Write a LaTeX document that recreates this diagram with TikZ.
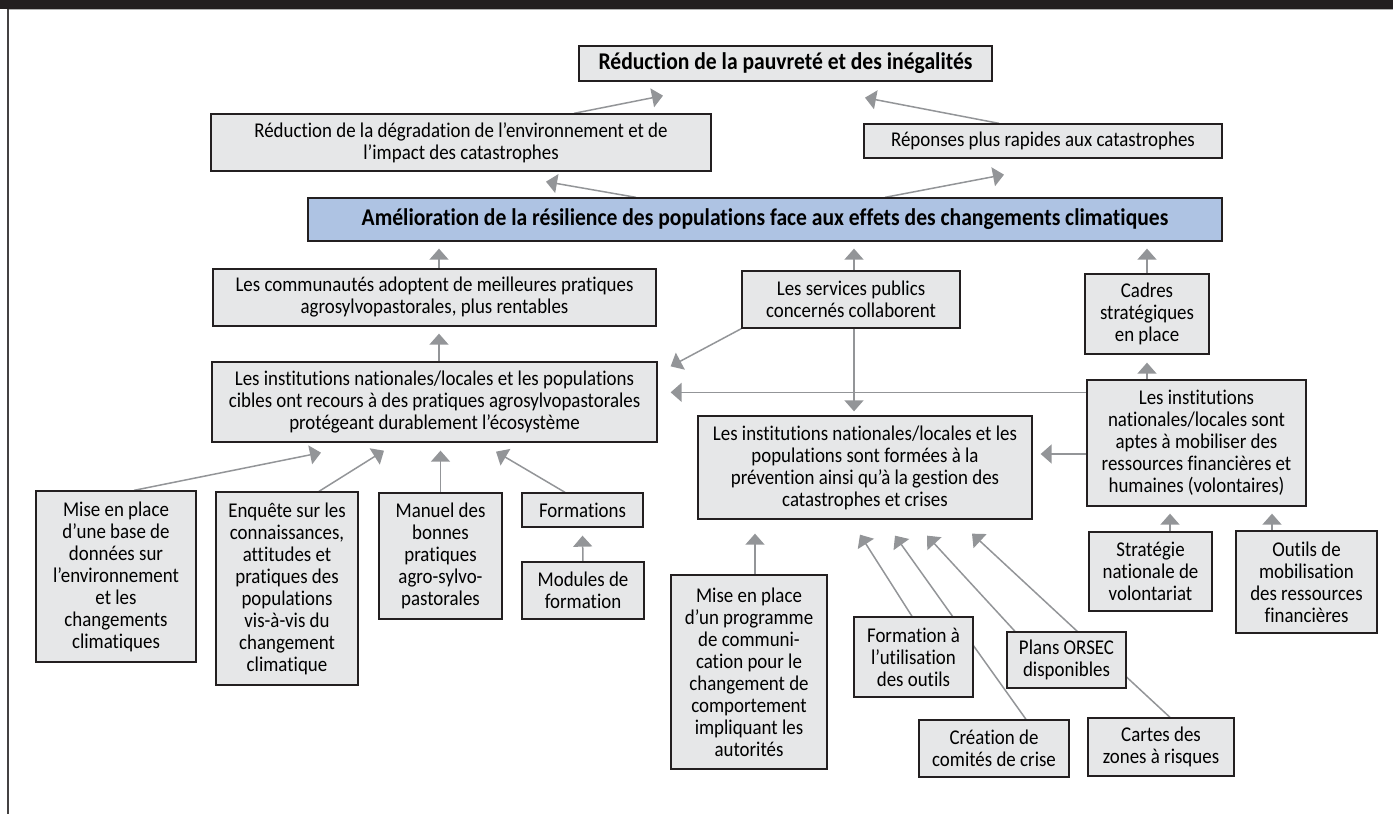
\documentclass[tikz,border=0pt]{standalone}
\usepackage{fontspec}
\setmainfont{Carlito}[FakeStretch=0.9,Ligatures=NoCommon]
\usetikzlibrary{arrows.meta,calc,backgrounds}
\definecolor{boxgray}{HTML}{E6E7E8}
\definecolor{resilblue}{HTML}{AEC3E3}
\definecolor{arrowgray}{HTML}{939598}
\definecolor{framedark}{HTML}{231F20}
\tikzset{
  box/.style={draw=framedark, line width=0.65pt, fill=boxgray, align=center, inner sep=1pt,
    font=\fontsize{10.5}{11}\selectfont},
  arr/.style={draw=arrowgray, line width=0.75pt, -{Triangle[length=5.5pt,width=9.5pt]}},
  link/.style={draw=arrowgray, line width=0.75pt}
}
\begin{document}
\begin{tikzpicture}[x=0.5pt,y=-0.5pt]
		\useasboundingbox (0,0) rectangle (1393,814);
		\fill[framedark] (0,0) rectangle (1393,9);
		\draw[gray!60, line width=0.5pt] (8,9.6)--(1393,9.6);
		\draw[framedark!85, line width=0.7pt] (8,9)--(8,814);

		\node[box, minimum width=206.5pt, minimum height=17.5pt, font=\fontsize{12}{13}\selectfont\bfseries] (pauvrete) at (785.5,63.5) {Réduction de la pauvreté et des inégalités};
		\node[box, minimum width=250pt, minimum height=28.5pt] (degrad) at (461,142.5) {Réduction de la dégradation de l’environnement et de\\l’impact des catastrophes};
		\node[box, minimum width=179pt, minimum height=17pt] (reponses) at (1043,141) {Réponses plus rapides aux catastrophes};
		\node[box, fill=resilblue, minimum width=457pt, minimum height=21.5pt, font=\fontsize{12}{13}\selectfont\bfseries] (resil) at (765,219.5) {Amélioration de la résilience des populations face aux effets des changements climatiques};

		\node[box, minimum width=221.5pt, minimum height=28.5pt] (commu) at (434.5,297.5) {Les communautés adoptent de meilleures pratiques\\agrosylvopastorales, plus rentables};
		\node[box, minimum width=109pt, minimum height=28.5pt] (services) at (851,299.5) {Les services publics\\concernés collaborent};
		\node[box, minimum width=62pt, minimum height=40pt] (cadres) at (1147,314) {Cadres\\stratégiques\\en place};
		\node[box, minimum width=222.5pt, minimum height=40pt] (pratiques) at (434.5,402) {Les institutions nationales/locales et les populations\\cibles ont recours à des pratiques agrosylvopastorales\\protégeant durablement l’écosystème};
		\node[box, minimum width=167pt, minimum height=51.5pt] (formees) at (865,467.5) {Les institutions nationales/locales et les\\populations sont formées à la\\prévention ainsi qu’à la gestion des\\catastrophes et crises};
		\node[box, minimum width=109.5pt, minimum height=63pt] (aptes) at (1196.5,443) {Les institutions\\nationales/locales sont\\aptes à mobiliser des\\ressources financières et\\humaines (volontaires)};

		\node[box, minimum width=80pt, minimum height=85.5pt] (base) at (116,576.5) {Mise en place\\d’une base de\\données sur\\l’environnement\\et les\\changements\\climatiques};
		\node[box, minimum width=71pt, minimum height=96.5pt] (enquete) at (287,588.5) {Enquête sur les\\connaissances,\\attitudes et\\pratiques des\\populations\\vis-à-vis du\\changement\\climatique};
		\node[box, minimum width=61.5pt, minimum height=63pt] (manuel) at (440.5,556) {Manuel des\\bonnes\\pratiques\\agro-sylvo-\\pastorales};
		\node[box, minimum width=60.5pt, minimum height=17pt] (formations) at (582.5,510) {Formations};
		\node[box, minimum width=61pt, minimum height=28.5pt] (modules) at (583,590.5) {Modules de\\formation};
		\node[box, minimum width=78pt, minimum height=97pt] (programme) at (749,672) {Mise en place\\d’un programme\\de communi-\\cation pour le\\changement de\\comportement\\impliquant les\\autorités};
		\node[box, minimum width=59.5pt, minimum height=40pt] (outilsform) at (913.5,657) {Formation à\\l’utilisation\\des outils};
		\node[box, minimum width=59.5pt, minimum height=28pt] (orsec) at (1066.5,660) {Plans ORSEC\\disponibles};
		\node[box, minimum width=75pt, minimum height=28.5pt] (comites) at (994,748.5) {Création de\\comités de crise};
		\node[box, minimum width=73pt, minimum height=29pt] (cartes) at (1161,747) {Cartes des\\zones à risques};
		\node[box, minimum width=61.5pt, minimum height=39.5pt] (strategie) at (1150.5,571.5) {Stratégie\\nationale de\\volontariat};
		\node[box, minimum width=70.5pt, minimum height=51pt] (outilsmob) at (1306.5,582) {Outils de\\mobilisation\\des ressources\\financières};

		\begin{scope}[on background layer]
		\draw[arr] ($(degrad.north)+(113,0)$) -- ($(pauvrete.south)+(-122.5,14)$);
		\draw[arr] ($(reponses.north)+(-44,0)$) -- ($(pauvrete.south)+(79.5,16)$);
		\draw[arr] ($(resil.north)+(-129,0)$) -- ($(degrad.south)+(85,10)$);
		\draw[arr] ($(resil.north)+(120,0)$) -- ($(reponses.south)+(-39,16)$);

		\draw[arr] ($(commu.north)+(4.5,0)$) -- ($(commu.north |- resil.south)+(4.5,7)$);
		\draw[arr] ($(services.north)+(3,0)$) -- ($(services.north |- resil.south)+(3,7)$);
		\draw[arr] (cadres.north) -- ($(cadres.north |- resil.south)+(0,7)$);
		\draw[arr] ($(pratiques.north)+(4.5,0)$) -- ($(commu.south)+(4.5,7)$);

		\draw[arr] (services.south west) -- ($(pratiques.north east)+(13,5)$);
		\draw[arr] ($(aptes.north west)+(0,13)$) -- ($(pratiques.north east)+(13,31)$);
		\draw[arr] ($(services.south)+(3,0)$) -- ($(services.south |- formees.north)+(3,-4)$);
		\draw[arr] ($(cadres.south |- aptes.north)$) -- ($(cadres.south)+(0,8)$);
		\draw[arr] ($(aptes.west)+(0,11)$) -- ($(formees.east)+(8,-13.5)$);
		\draw[arr] ($(strategie.north)+(19.5,0)$) -- ($(strategie.north |- aptes.south)+(19.5,7)$);
		\draw[arr] ($(outilsmob.north)+(-34.5,0)$) -- ($(outilsmob.north |- aptes.south)+(-34.5,7)$);

		\draw[arr] ($(base.north)+(18,0)$) -- ($(pratiques.south)+(-113.5,10)$);
		\draw[arr] ($(enquete.north)+(32,0)$) -- ($(pratiques.south)+(-50.5,8)$);
		\draw[arr] (manuel.north) -- ($(manuel.north |- pratiques.south)+(0,8)$);
		\draw[arr] ($(formations.north)+(-17.5,0)$) -- ($(pratiques.south)+(61.5,9)$);
		\draw[arr] (modules.north) -- ($(formations.south)+(0,8)$);

		\draw[arr] ($(programme.north)+(6,0)$) -- ($(formees.south)+(-110,14)$);
		\draw[arr] ($(outilsform.north)+(-1.5,0)$) -- ($(formees.south)+(-5,15)$);
		\draw[arr] ($(comites.north)+(32,0)$) -- ($(formees.south)+(30,16)$);
		\draw[arr] ($(orsec.north)+(-51.5,0)$) -- ($(formees.south)+(62,16)$);
		\draw[arr] ($(cartes.north)+(9,0)$) -- ($(formees.south)+(107,14)$);
		\end{scope}
	\end{tikzpicture}
\end{document}
